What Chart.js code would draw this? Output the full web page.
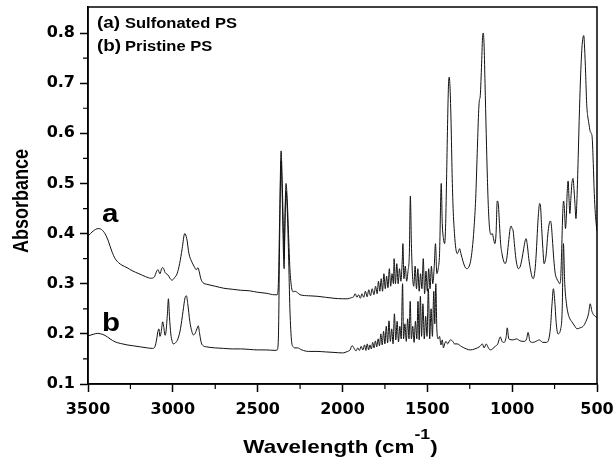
<!DOCTYPE html>
<html>
<head>
<meta charset="utf-8">
<script src="https://cdn.jsdelivr.net/npm/chart.js@4.4.1/dist/chart.umd.min.js"></script>
<style>
  html, body { margin: 0; padding: 0; background: #fff; }
  canvas { display: block; }
</style>
</head>
<body>
<canvas id="irChart" width="615" height="465"></canvas>
<script>
// wavenumbers (cm-1) and absorbance
const sulfonatedX = [
  3500, 3470, 3440, 3420, 3400, 3380, 3360, 3340, 3320, 3300, 3270, 3240, 3200, 3160, 3130, 3110,
  3095, 3088, 3076, 3066, 3058, 3045, 3030, 3015, 3005, 2990, 2975, 2960, 2945, 2930, 2918, 2905,
  2890, 2875, 2862, 2852, 2845, 2835, 2822, 2800, 2750, 2700, 2650, 2600, 2550, 2500, 2450, 2400,
  2385, 2378, 2370, 2362, 2355, 2348, 2344, 2340, 2333, 2326, 2318, 2310, 2300, 2290, 2280, 2265,
  2250, 2200, 2150, 2100, 2050, 2000, 1970, 1950, 1935, 1925,
  1915, 1905, 1895, 1885, 1875, 1865, 1855, 1845, 1835, 1825, 1815, 1805, 1796, 1788, 1780, 1772,
  1764, 1756, 1748, 1740, 1732, 1724, 1716, 1708, 1700, 1696, 1688, 1680, 1672, 1664, 1656, 1648,
  1644, 1638, 1630, 1622, 1614, 1606, 1600, 1594, 1588, 1580, 1572, 1564, 1556, 1548, 1540, 1532,
  1524, 1516, 1508, 1500, 1492, 1484, 1476, 1468, 1460, 1452, 1444, 1436, 1428,
  1418, 1412, 1405, 1398, 1392, 1386, 1380, 1375, 1371, 1366, 1360, 1354, 1348, 1340, 1332, 1324,
  1316, 1310, 1302, 1290, 1280, 1268, 1256, 1245, 1235, 1225, 1215, 1206, 1198, 1194, 1188, 1180,
  1174, 1170, 1165, 1160, 1153, 1146, 1140, 1133, 1125, 1117, 1110, 1102, 1095, 1088, 1082, 1075,
  1068, 1060, 1050, 1041, 1032, 1022, 1012, 1006, 1000, 994, 987, 978, 970, 963, 952, 942,
  932, 924, 918, 910, 902, 893, 884, 876, 868, 860, 852, 845, 838, 833, 826, 819,
  812, 806, 799, 792, 784, 776, 770, 763, 755, 746, 737, 729, 720, 714, 708, 702,
  697, 692, 686, 681, 676, 670, 665, 660, 654, 648, 641, 636, 630, 624, 618, 611,
  603, 596, 589, 583, 578, 573, 567, 561, 555, 548, 541, 534, 528, 522, 516, 510,
  505, 500
];
const sulfonatedY = [
  0.395, 0.405, 0.41, 0.408, 0.40, 0.385, 0.365, 0.35, 0.342, 0.337, 0.332, 0.326, 0.32, 0.314, 0.311, 0.313,
  0.325, 0.328, 0.32, 0.33, 0.332, 0.322, 0.318, 0.31, 0.307, 0.312, 0.32, 0.34, 0.37, 0.40, 0.39, 0.36,
  0.345, 0.335, 0.328, 0.332, 0.325, 0.31, 0.302, 0.299, 0.295, 0.291, 0.289, 0.287, 0.286, 0.283, 0.281, 0.278,
  0.278, 0.30, 0.44, 0.565, 0.50, 0.40, 0.35, 0.42, 0.50, 0.47, 0.40, 0.33, 0.292, 0.284, 0.285, 0.282,
  0.278, 0.276, 0.275, 0.273, 0.271, 0.27, 0.27, 0.272, 0.274, 0.28,
  0.273, 0.278, 0.271, 0.28, 0.273, 0.285, 0.274, 0.288, 0.276, 0.29, 0.278, 0.295, 0.28, 0.305, 0.285, 0.31,
  0.285, 0.32, 0.29, 0.315, 0.292, 0.33, 0.295, 0.32, 0.30, 0.35, 0.30, 0.34, 0.30, 0.33, 0.305, 0.345,
  0.38, 0.31, 0.335, 0.305, 0.325, 0.36, 0.475, 0.38, 0.32, 0.295, 0.335, 0.29, 0.33, 0.285, 0.32, 0.29,
  0.35, 0.28, 0.325, 0.285, 0.33, 0.29, 0.335, 0.30, 0.33, 0.38, 0.32, 0.33, 0.36,
  0.50, 0.42, 0.39, 0.38, 0.42, 0.52, 0.63, 0.70, 0.712, 0.69, 0.62, 0.52, 0.45, 0.40, 0.37, 0.36,
  0.365, 0.37, 0.36, 0.345, 0.335, 0.33, 0.333, 0.345, 0.37, 0.41, 0.47, 0.56, 0.64, 0.664, 0.675, 0.74,
  0.795, 0.80, 0.77, 0.70, 0.60, 0.51, 0.45, 0.41, 0.398, 0.40, 0.39, 0.38, 0.40, 0.465, 0.46, 0.42,
  0.38, 0.36, 0.345, 0.34, 0.35, 0.38, 0.41, 0.415, 0.41, 0.405, 0.38, 0.35, 0.335, 0.33, 0.335, 0.35,
  0.37, 0.385, 0.39, 0.375, 0.35, 0.33, 0.315, 0.31, 0.32, 0.35, 0.40, 0.44, 0.46, 0.455, 0.41, 0.37,
  0.34, 0.345, 0.36, 0.39, 0.415, 0.425, 0.42, 0.39, 0.35, 0.32, 0.31, 0.305, 0.30, 0.31, 0.37, 0.44,
  0.465, 0.45, 0.41, 0.43, 0.48, 0.505, 0.47, 0.44, 0.47, 0.50, 0.51, 0.49, 0.46, 0.43, 0.47, 0.55,
  0.65, 0.72, 0.77, 0.79, 0.795, 0.77, 0.72, 0.66, 0.635, 0.62, 0.605, 0.60, 0.59, 0.54, 0.48, 0.44,
  0.42, 0.405
];

const pristineX = [
  3500, 3470, 3445, 3425, 3400, 3370, 3340, 3310, 3270, 3230, 3190, 3150, 3120, 3105, 3095, 3088,
  3082, 3076, 3068, 3060, 3054, 3046, 3040, 3032, 3026, 3020, 3012, 3004, 2998, 2985, 2970, 2955,
  2940, 2928, 2920, 2912, 2900, 2888, 2880, 2870, 2858, 2850, 2842, 2832, 2820, 2800, 2750, 2700,
  2650, 2600, 2550, 2500, 2450, 2398, 2385, 2378, 2370, 2362, 2355, 2348, 2344, 2340, 2333, 2326,
  2318, 2310, 2300, 2290, 2280, 2265, 2240, 2200, 2150, 2100, 2050, 2000, 1985, 1970, 1955, 1945,
  1938, 1930, 1920, 1910, 1900, 1890, 1880, 1870, 1862, 1854, 1846, 1838, 1830, 1822, 1814, 1806,
  1798, 1790, 1782, 1774, 1766, 1758, 1750, 1742, 1734, 1726, 1718, 1710, 1702, 1694, 1686, 1678,
  1670, 1662, 1654, 1646, 1640, 1632, 1624, 1616, 1608, 1601, 1594, 1586, 1578, 1570, 1562, 1555,
  1548, 1541, 1534, 1526, 1518, 1510, 1502, 1494, 1486, 1478, 1470, 1462, 1456, 1450, 1444, 1436,
  1428, 1420, 1412, 1405, 1398, 1390, 1380, 1365, 1350, 1340, 1324, 1300, 1270, 1247, 1220, 1190,
  1176, 1165, 1153, 1140, 1129, 1100, 1085, 1070, 1060, 1047, 1035, 1029, 1020, 994, 975, 953,
  930, 915, 906, 895, 876, 860, 840, 820, 800, 789, 775, 765, 757, 750, 740, 730,
  714, 705, 698, 690, 680, 670, 660, 650, 630, 618, 600, 582, 565, 550, 540, 530,
  520, 510, 500
];
const pristineY = [
  0.196, 0.199, 0.201, 0.20, 0.197, 0.19, 0.184, 0.181, 0.178, 0.176, 0.174, 0.172, 0.171, 0.175, 0.19, 0.205,
  0.21, 0.195, 0.205, 0.224, 0.215, 0.197, 0.205, 0.24, 0.27, 0.235, 0.20, 0.185, 0.18, 0.182, 0.19, 0.21,
  0.245, 0.272, 0.276, 0.26, 0.225, 0.205, 0.198, 0.20, 0.21, 0.216, 0.20, 0.182, 0.176, 0.174, 0.172, 0.171,
  0.17, 0.17, 0.169, 0.168, 0.168, 0.167, 0.168, 0.19, 0.40, 0.545, 0.47, 0.36, 0.33, 0.40, 0.485, 0.45,
  0.36, 0.25, 0.185, 0.174, 0.172, 0.172, 0.168, 0.165, 0.165, 0.164, 0.163, 0.162, 0.163, 0.165, 0.168, 0.176,
  0.175, 0.17, 0.166, 0.172, 0.167, 0.175, 0.168, 0.178, 0.167, 0.18, 0.168, 0.178, 0.17, 0.183, 0.172, 0.186,
  0.174, 0.19, 0.176, 0.20, 0.178, 0.205, 0.18, 0.215, 0.182, 0.226, 0.185, 0.21, 0.18, 0.24, 0.188, 0.225,
  0.184, 0.215, 0.19, 0.30, 0.19, 0.22, 0.185, 0.23, 0.19, 0.265, 0.19, 0.215, 0.183, 0.225, 0.19, 0.265,
  0.188, 0.275, 0.195, 0.26, 0.19, 0.235, 0.195, 0.29, 0.19, 0.25, 0.195, 0.285, 0.22, 0.30, 0.21, 0.19,
  0.195, 0.178, 0.188, 0.172, 0.18, 0.185, 0.18, 0.188, 0.185, 0.18, 0.18, 0.175, 0.17, 0.168, 0.17, 0.175,
  0.18, 0.172, 0.18, 0.172, 0.168, 0.175, 0.18, 0.194, 0.185, 0.183, 0.195, 0.212, 0.19, 0.188, 0.19, 0.186,
  0.185, 0.19, 0.203, 0.185, 0.183, 0.185, 0.188, 0.183, 0.183, 0.185, 0.21, 0.26, 0.29, 0.27, 0.22, 0.20,
  0.21, 0.25, 0.38, 0.30, 0.26, 0.24, 0.23, 0.225, 0.215, 0.21, 0.212, 0.215, 0.225, 0.24, 0.26, 0.245,
  0.238, 0.235, 0.232
];

const xTickValues = [3500, 3000, 2500, 2000, 1500, 1000, 500];
const xMinorValues = [3250, 2750, 2250, 1750, 1250, 750];
const yTickValues = [0.1, 0.2, 0.3, 0.4, 0.5, 0.6, 0.7, 0.8];
const yMinorValues = [0.15, 0.25, 0.35, 0.45, 0.55, 0.65, 0.75];

const FONT = "'Liberation Sans', Arial, Helvetica, sans-serif";
const TICK_FONT = "'DejaVu Sans', 'Liberation Sans', sans-serif";
const STRETCH = 1.18; // the original figure is a bit wider than tall

const pts = (xs, ys) => xs.map((x, i) => ({ x: x, y: ys[i] }));

// text drawn a little wider, like the source image
function wideText(ctx, txt, x, y) {
  ctx.save();
  ctx.translate(x, y);
  ctx.scale(STRETCH, 1);
  ctx.fillText(txt, 0, 0);
  ctx.restore();
}

const extras = {
  id: 'extras',
  afterDraw(chart) {
    const ctx = chart.ctx;
    const a = chart.chartArea;
    const xs = chart.scales.x, ys = chart.scales.y;
    ctx.save();
    // frame
    ctx.strokeStyle = '#000';
    ctx.lineWidth = 1.5;
    ctx.strokeRect(a.left, a.top, a.right - a.left, a.bottom - a.top);
    // minor ticks
    ctx.lineWidth = 1.2;
    ctx.beginPath();
    xMinorValues.forEach(v => {
      const px = xs.getPixelForValue(v);
      ctx.moveTo(px, a.bottom); ctx.lineTo(px, a.bottom + 5);
    });
    yMinorValues.forEach(v => {
      const py = ys.getPixelForValue(v);
      ctx.moveTo(a.left - 5, py); ctx.lineTo(a.left, py);
    });
    ctx.stroke();

    ctx.fillStyle = '#000';
    ctx.textBaseline = 'alphabetic';
    // legend text
    ctx.font = 'bold 16px ' + FONT;
    wideText(ctx, '(a)', 97, 28);
    wideText(ctx, '(b)', 97, 51);
    ctx.font = 'bold 14px ' + FONT;
    wideText(ctx, 'Sulfonated PS', 125, 28);
    wideText(ctx, 'Pristine PS', 125, 51);
    // curve labels
    ctx.font = 'bold 25px ' + FONT;
    wideText(ctx, 'a', 102, 222);
    wideText(ctx, 'b', 102, 331);
    // x title with superscript
    ctx.font = 'bold 19px ' + FONT;
    const t1 = 'Wavelength (cm';
    const w1 = ctx.measureText(t1).width * STRETCH;
    const w3 = ctx.measureText(')').width * STRETCH;
    ctx.font = 'bold 15px ' + FONT;
    const w2 = ctx.measureText('-1').width * STRETCH;
    const x0 = (a.left + a.right) / 2 - 2 - (w1 + w2 + w3) / 2;
    ctx.font = 'bold 19px ' + FONT;
    wideText(ctx, t1, x0, 453);
    wideText(ctx, ')', x0 + w1 + w2, 453);
    ctx.font = 'bold 15px ' + FONT;
    wideText(ctx, '-1', x0 + w1, 439);
    // y title
    ctx.font = 'bold 18px ' + FONT;
    ctx.translate(28, 201);
    ctx.rotate(-Math.PI / 2);
    ctx.scale(1, STRETCH);
    ctx.textAlign = 'center';
    ctx.fillText('Absorbance', 0, 0);
    ctx.restore();
  }
};

new Chart(document.getElementById('irChart'), {
  type: 'line',
  data: {
    datasets: [
      {
        label: 'Sulfonated PS',
        data: pts(sulfonatedX, sulfonatedY),
        borderColor: '#111',
        borderWidth: 1,
        pointRadius: 0,
        fill: false,
        cubicInterpolationMode: 'monotone'
      },
      {
        label: 'Pristine PS',
        data: pts(pristineX, pristineY),
        borderColor: '#111',
        borderWidth: 1,
        pointRadius: 0,
        fill: false,
        cubicInterpolationMode: 'monotone'
      }
    ]
  },
  options: {
    responsive: false,
    animation: false,
    events: [],
    layout: { padding: { top: 7, right: 18, left: 0, bottom: 0 } },
    plugins: { legend: { display: false }, tooltip: { enabled: false } },
    scales: {
      x: {
        type: 'linear',
        reverse: true,
        min: 500,
        max: 3500,
        afterFit: s => { s.height = 81; s.paddingLeft = 0; s.paddingRight = 0; },
        afterBuildTicks: s => { s.ticks = xTickValues.map(v => ({ value: v })); },
        ticks: {
          color: '#000',
          font: { family: TICK_FONT, size: 16, weight: 'bold' },
          padding: 8,
          maxRotation: 0,
          callback: v => String(v)
        },
        grid: { drawOnChartArea: false, drawTicks: true, tickLength: 8, tickColor: '#000', tickWidth: 1.5 },
        border: { display: true, color: '#000', width: 1.5 }
      },
      y: {
        type: 'linear',
        min: 0.1,
        max: 0.852,
        afterFit: s => { s.width = 88; s.paddingTop = 0; s.paddingBottom = 0; },
        afterBuildTicks: s => { s.ticks = yTickValues.map(v => ({ value: v })); },
        ticks: {
          color: '#000',
          font: { family: TICK_FONT, size: 16, weight: 'bold' },
          padding: 5,
          callback: v => v.toFixed(1)
        },
        grid: { drawOnChartArea: false, drawTicks: true, tickLength: 8, tickColor: '#000', tickWidth: 1.5 },
        border: { display: true, color: '#000', width: 1.5 }
      }
    }
  },
  plugins: [extras]
});
</script>
</body>
</html>
